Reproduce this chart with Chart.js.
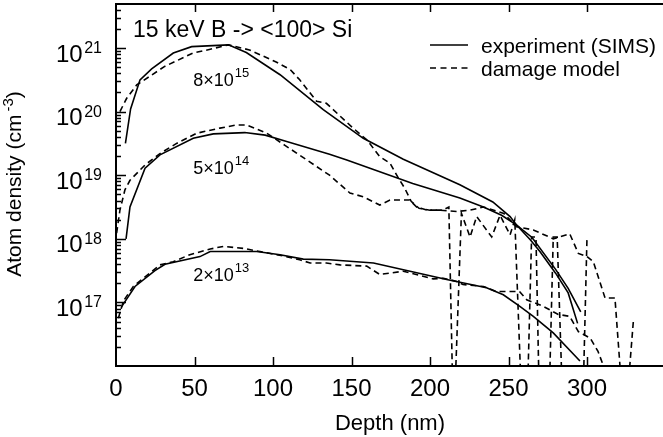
<!DOCTYPE html>
<html><head><meta charset="utf-8">
<script src="https://cdn.jsdelivr.net/npm/chart.js@4.4.1/dist/chart.umd.min.js"></script>
<style>html,body{margin:0;padding:0;background:#fff;overflow:hidden}</style>
</head><body>
<canvas id="c" width="663" height="437" style="width:663px;height:437px"></canvas>
<script>
// ---- data (depth in nm, density in cm^-3) ----
const ZERO = 1e15; // model dropouts to zero (below the plotted range)

const depthSims8e15 = [6, 9.3, 15.3, 22.7, 36.5, 48.2, 71.6, 83, 104.5, 132, 157.5, 183, 219, 240, 251, 255, 264, 270, 280, 288, 294];
const densSims8e15  = [3.16e19, 1.10e20, 3.16e20, 4.68e20, 8.32e20, 1.05e21, 1.12e21, 8.51e20, 3.80e20, 1.07e20, 3.80e19, 1.78e19, 7.08e18, 3.80e18, 2.24e18, 1.66e18, 9.55e17, 6.31e17, 2.88e17, 1.41e17, 4.68e16];

const depthSims5e14 = [6.4, 8.9, 18.5, 28, 49.2, 62, 82, 95, 108.7, 136, 147, 189, 219, 234, 245.6, 255, 265, 280, 288, 296];
const densSims5e14  = [1.00e18, 3.16e18, 1.29e19, 2.09e19, 3.80e19, 4.47e19, 4.68e19, 4.27e19, 3.39e19, 2.14e19, 1.74e19, 7.41e18, 4.37e18, 3.16e18, 2.34e18, 1.66e18, 1.05e18, 3.31e17, 1.66e17, 7.08e16];

const depthSims2e13 = [3.5, 12.1, 24.8, 31.2, 53.5, 60, 89.6, 104.5, 119.3, 136, 164, 210.6, 236, 246.7, 257, 265.8, 278.5, 295.5];
const densSims2e13  = [8.5e16, 1.78e17, 3.16e17, 3.98e17, 5.25e17, 6.31e17, 6.31e17, 5.62e17, 4.79e17, 4.68e17, 4.17e17, 2.29e17, 1.70e17, 1.32e17, 8.71e16, 6.03e16, 3.31e16, 1.20e16];

const depthModel8e15 = [2.5, 6.8, 13.2, 31, 43, 49, 60, 71.6, 85, 102, 111, 117, 127.8, 134, 151, 160, 168, 174.5, 180, 184, 188, 193, 200, 208, 212, 215, 220, 225.5, 229.7, 239.3, 244.6, 251, 254, 259, 261.5, 264.7, 267.5, 270, 275.4, 278.5, 281, 285, 297, 300];
const densModel8e15  = [1.0e20, 1.62e20, 2.63e20, 5.13e20, 7.08e20, 8.32e20, 9.55e20, 1.12e21, 9.33e20, 6.03e20, 4.57e20, 3.16e20, 1.45e20, 1.35e20, 5.50e19, 3.55e19, 1.95e19, 1.55e19, 8.91e18, 6.17e18, 3.89e18, 3.02e18, 2.82e18, 2.82e18, 3.16e18, ZERO, 2.51e18, 1.07e18, 2.24e18, 1.07e18, 2.34e18, 1.15e18, 2.0e18, ZERO, ZERO, 1.07e18, 1.07e18, ZERO, ZERO, 1.07e18, 1.07e18, ZERO, ZERO, 1.07e18];

const depthModel5e14 = [0.4, 2.5, 5.7, 8.9, 18.5, 28, 38.6, 51.4, 66.2, 76.9, 83, 96, 107.6, 121.5, 136, 149, 157.5, 168, 174.5, 187, 191.5, 198, 206, 217, 225.5, 234, 247, 255, 265.8, 278.5, 289, 294.5, 300, 304, 311.5, 317.8, 324, 329.5];
const densModel5e14  = [1.23e18, 2.82e18, 5.89e18, 8.32e18, 1.45e19, 2.19e19, 3.16e19, 4.57e19, 5.50e19, 6.17e19, 6.17e19, 4.57e19, 2.95e19, 1.74e19, 1.00e19, 5.25e18, 4.57e18, 3.39e18, 4.07e18, 4.07e18, 3.16e18, 2.82e18, 2.82e18, 2.69e18, 2.82e18, 3.16e18, 2.51e18, 1.55e18, 1.38e18, 1.00e18, 1.20e18, 5.89e17, 5.25e17, 4.37e17, 1.17e17, 1.17e17, ZERO, 5.01e16];

const depthModel2e13 = [1.5, 4.7, 11, 28, 36.5, 47, 60, 68.3, 81, 91.7, 106.6, 117, 123.6, 134, 142.7, 159.7, 168, 183, 202, 208.5, 217, 221, 234, 242.4, 257, 261.6, 272, 281.7, 289, 294.5, 302, 307, 312];
const densModel2e13  = [5.62e16, 1.05e17, 1.78e17, 3.89e17, 4.37e17, 5.62e17, 6.92e17, 7.59e17, 7.08e17, 6.31e17, 5.37e17, 4.68e17, 4.17e17, 4.17e17, 3.89e17, 3.72e17, 2.75e17, 3.09e17, 2.34e17, 2.40e17, 2.14e17, 1.91e17, 1.78e17, 1.48e17, 1.48e17, 1.10e17, 8.71e16, 6.46e16, 6.03e16, 3.47e16, 2.75e16, 1.70e16, 7.94e15];

const xTickValues = [0, 50, 100, 150, 200, 250, 300];
const yTickValues = [1e17, 1e18, 1e19, 1e20, 1e21];
const yTickExponents = ['17', '18', '19', '20', '21'];

const titleText = '15 keV B -> <100> Si';
const xTitle = 'Depth (nm)';
const yTitleMain = 'Atom density (cm';
const yTitleExp = '-3';
const legendLabels = ['experiment (SIMS)', 'damage model'];

const doseMantissa = ['8', '5', '2'];
const doseExponent = ['15', '14', '13'];
const doseLabelDepth = [49.2, 49.2, 49.2];
const doseLabelDensity = [2.51e20, 1.06e19, 2.19e17];

// ---- chart ----
const FONT = '"Liberation Sans", Arial, Helvetica, sans-serif';
const SX = 1.0;

function pts(xs, ys) { return xs.map((x, i) => ({x: x, y: ys[i]})); }
function solid(xs, ys) { return {data: pts(xs, ys), borderColor: '#000', borderWidth: 1.6, pointRadius: 0, fill: false, tension: 0}; }
function dashed(xs, ys) { return {data: pts(xs, ys), borderColor: '#000', borderWidth: 1.6, borderDash: [6, 4], pointRadius: 0, fill: false, tension: 0}; }

function txt(ctx, s, x, y, size, align) {
  ctx.save();
  ctx.font = size + 'px ' + FONT;
  const w = ctx.measureText(s).width * SX;
  let x0 = x;
  if (align === 'center') x0 = x - w / 2; else if (align === 'right') x0 = x - w;
  ctx.translate(x0, y); ctx.scale(SX, 1);
  ctx.textAlign = 'left'; ctx.textBaseline = 'alphabetic';
  ctx.fillStyle = '#000';
  ctx.fillText(s, 0, 0);
  ctx.restore();
  return w;
}
function tw(ctx, s, size) { ctx.save(); ctx.font = size + 'px ' + FONT; const w = ctx.measureText(s).width * SX; ctx.restore(); return w; }

const axesPlugin = {
  id: 'axesPlugin',
  afterDatasetsDraw(chart) {
    const ctx = chart.ctx, a = chart.chartArea;
    const xs = chart.scales.x, ys = chart.scales.y;
    ctx.save();
    ctx.strokeStyle = '#000'; ctx.lineWidth = 2; ctx.setLineDash([]);
    ctx.beginPath();
    ctx.moveTo(a.left, a.top); ctx.lineTo(a.right + 2, a.top);
    ctx.moveTo(a.left, a.top - 1); ctx.lineTo(a.left, a.bottom + 1);
    ctx.moveTo(a.left - 1, a.bottom); ctx.lineTo(a.right + 2, a.bottom);
    ctx.stroke();
    // x ticks
    ctx.lineWidth = 1.5;
    ctx.beginPath();
    xTickValues.forEach(v => {
      if (v === 0) return;
      const px = Math.round(xs.getPixelForValue(v)) + 0.5;
      ctx.moveTo(px, a.bottom); ctx.lineTo(px, a.bottom - 9);
      ctx.moveTo(px, a.top); ctx.lineTo(px, a.top + 8);
    });
    ctx.stroke();
    // y ticks (major + minor)
    ctx.beginPath();
    for (let e = 16; e <= 21; e++) {
      for (let m = 1; m <= 9; m++) {
        const v = m * Math.pow(10, e);
        if (v <= ys.min || v >= ys.max) continue;
        const py = Math.round(ys.getPixelForValue(v)) + 0.5;
        const len = (m === 1) ? 10 : 5;
        ctx.moveTo(a.left, py); ctx.lineTo(a.left + len, py);
      }
    }
    ctx.stroke();
    ctx.restore();

    // x tick labels
    xTickValues.forEach(v => {
      txt(ctx, String(v), xs.getPixelForValue(v), a.bottom + 30, 24, 'center');
    });
    // y tick labels
    yTickValues.forEach((v, i) => {
      const py = ys.getPixelForValue(v);
      const wE = tw(ctx, yTickExponents[i], 16);
      const wB = tw(ctx, '10', 24);
      const right = a.left - 14;
      txt(ctx, yTickExponents[i], right - wE, py + 5, 16, 'left');
      txt(ctx, '10', right - wE - 1.5 - wB, py + 13.5, 24, 'left');
    });
    // axis titles
    txt(ctx, xTitle, 390, 430, 22, 'center');
    ctx.save();
    ctx.translate(21, 184);
    ctx.rotate(-Math.PI / 2);
    ctx.font = '21px ' + FONT;
    const w1 = ctx.measureText(yTitleMain).width;
    ctx.font = '15px ' + FONT;
    const w2 = ctx.measureText(yTitleExp).width;
    ctx.font = '21px ' + FONT;
    const w3 = ctx.measureText(')').width;
    const total = w1 + 3 + w2 + w3;
    let x0 = -total / 2;
    ctx.fillStyle = '#000'; ctx.textBaseline = 'alphabetic'; ctx.textAlign = 'left';
    ctx.fillText(yTitleMain, x0, 0);
    ctx.font = '15px ' + FONT;
    ctx.fillText(yTitleExp, x0 + w1 + 3, -8);
    ctx.font = '21px ' + FONT;
    ctx.fillText(')', x0 + w1 + 3 + w2, 0);
    ctx.restore();

    // title
    txt(ctx, titleText, 133, 37, 23, 'left');

    // legend
    ctx.save();
    ctx.strokeStyle = '#000'; ctx.lineWidth = 1.6;
    ctx.beginPath(); ctx.moveTo(430, 45); ctx.lineTo(468, 45); ctx.stroke();
    ctx.setLineDash([6, 4.5]);
    ctx.beginPath(); ctx.moveTo(430, 68); ctx.lineTo(470, 68); ctx.stroke();
    ctx.restore();
    txt(ctx, legendLabels[0], 481, 53, 21, 'left');
    txt(ctx, legendLabels[1], 481, 76, 21, 'left');

    // dose annotations
    doseMantissa.forEach((m, i) => {
      const px = xs.getPixelForValue(doseLabelDepth[i]);
      const py = ys.getPixelForValue(doseLabelDensity[i]);
      const wb = txt(ctx, m + '\u00D710', px, py, 18, 'left');
      txt(ctx, doseExponent[i], px + wb + 1, py - 9, 13, 'left');
    });
  }
};

new Chart(document.getElementById('c'), {
  type: 'line',
  data: {
    datasets: [
      solid(depthSims8e15, densSims8e15),
      solid(depthSims5e14, densSims5e14),
      solid(depthSims2e13, densSims2e13),
      dashed(depthModel8e15, densModel8e15),
      dashed(depthModel5e14, densModel5e14),
      dashed(depthModel2e13, densModel2e13)
    ]
  },
  options: {
    responsive: false,
    animation: false,
    devicePixelRatio: 1,
    layout: {padding: {left: 116, top: 4, right: 0, bottom: 71}},
    plugins: {legend: {display: false}, tooltip: {enabled: false}},
    scales: {
      x: {type: 'linear', min: 0, max: 348.4, display: false},
      y: {type: 'logarithmic', min: 1e16, max: 4.92e21, display: false}
    }
  },
  plugins: [axesPlugin]
});
</script>
</body></html>
